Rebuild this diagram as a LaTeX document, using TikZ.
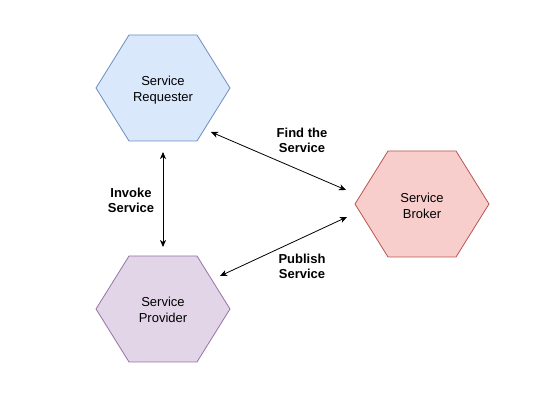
\documentclass[tikz,border=0pt]{standalone}
\usepackage{fontspec}
\setmainfont{Liberation Sans}
\usetikzlibrary{arrows.meta}
\definecolor{reqfill}{HTML}{DAE8FC}
\definecolor{reqline}{HTML}{6C8EBF}
\definecolor{brkfill}{HTML}{F8CECC}
\definecolor{brkline}{HTML}{B85450}
\definecolor{prvfill}{HTML}{E1D5E7}
\definecolor{prvline}{HTML}{9673A6}
\begin{document}
\begin{tikzpicture}[x=1pt,y=-1pt,
  hexshape/.style={line width=0.8pt, line join=miter},
  hextext/.style={align=center, inner sep=0pt, font=\fontsize{13}{16}\selectfont},
  lbltext/.style={align=center, inner sep=0pt, font=\fontsize{13}{15}\selectfont\bfseries},
  conn/.style={line width=0.8pt, black, {Stealth[length=7pt,width=6pt,inset=2pt]}-{Stealth[length=7pt,width=6pt,inset=2pt]}}]
\useasboundingbox (0,0) rectangle (549,403);
% hexagons
\draw[hexshape, fill=reqfill, draw=reqline] (96,88) -- (129,35) -- (197,35) -- (230,88) -- (197,141) -- (129,141) -- cycle;
\draw[hexshape, fill=brkfill, draw=brkline] (355,204) -- (388,151) -- (456,151) -- (489,204) -- (456,257) -- (388,257) -- cycle;
\draw[hexshape, fill=prvfill, draw=prvline] (96,309) -- (129,256) -- (197,256) -- (230,309) -- (197,362) -- (129,362) -- cycle;
% texts
\node[hextext] (req) at (163,90.5) {\strut Service\\Requester\strut};
\node[hextext] (brk) at (422,207.1) {\strut Service\\Broker\strut};
\node[hextext] (prv) at (163,311.5) {\strut Service\\Provider\strut};
% connector ends
\coordinate (fa) at (211,132);
\coordinate (fb) at (346,190);
\coordinate (pa) at (347,217);
\coordinate (pb) at (220,276);
\coordinate (ia) at (163,152);
\coordinate (ib) at (163,247);
\draw[conn] (fa) -- (fb);
\draw[conn] (pa) -- (pb);
\draw[conn] (ia) -- (ib);
% labels
\node[lbltext] (lfind) at (302,142.2) {\strut Find the\\Service\strut};
\node[lbltext] (lpub) at (302,267.8) {\strut Publish\\Service\strut};
\node[lbltext] (linv) at (131,201.8) {\strut Invoke\\Service\strut};
\end{tikzpicture}
\end{document}
